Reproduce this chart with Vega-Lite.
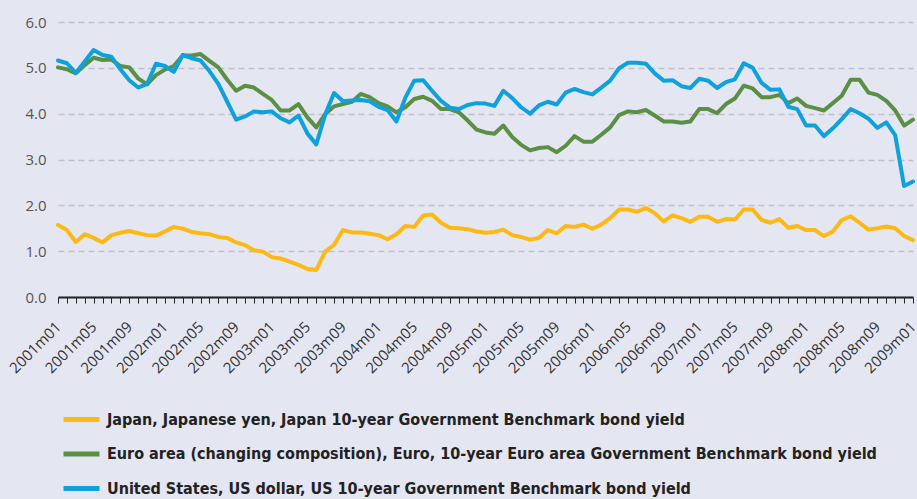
{
"$schema":"https://vega.github.io/schema/vega-lite/v6.json",
"width":855,"height":275,
"autosize":{"type":"none"},
"padding":{"left":58,"top":22,"right":4,"bottom":202},
"background":"#e4e6f2",
"config":{"view":{"stroke":null},"font":"Open Sans"},
"data":{"values":[
{"m":"2001m01","jp":1.57,"ea":5.01,"us":5.16},
{"m":"2001m02","jp":1.46,"ea":4.97,"us":5.10},
{"m":"2001m03","jp":1.20,"ea":4.88,"us":4.89},
{"m":"2001m04","jp":1.37,"ea":5.06,"us":5.14},
{"m":"2001m05","jp":1.29,"ea":5.22,"us":5.39},
{"m":"2001m06","jp":1.19,"ea":5.17,"us":5.28},
{"m":"2001m07","jp":1.35,"ea":5.18,"us":5.24},
{"m":"2001m08","jp":1.40,"ea":5.04,"us":4.97},
{"m":"2001m09","jp":1.44,"ea":5.01,"us":4.73},
{"m":"2001m10","jp":1.39,"ea":4.77,"us":4.57},
{"m":"2001m11","jp":1.35,"ea":4.64,"us":4.65},
{"m":"2001m12","jp":1.34,"ea":4.84,"us":5.09},
{"m":"2002m01","jp":1.43,"ea":4.96,"us":5.04},
{"m":"2002m02","jp":1.53,"ea":5.04,"us":4.91},
{"m":"2002m03","jp":1.49,"ea":5.27,"us":5.28},
{"m":"2002m04","jp":1.42,"ea":5.27,"us":5.21},
{"m":"2002m05","jp":1.39,"ea":5.30,"us":5.16},
{"m":"2002m06","jp":1.37,"ea":5.15,"us":4.93},
{"m":"2002m07","jp":1.31,"ea":5.01,"us":4.65},
{"m":"2002m08","jp":1.29,"ea":4.74,"us":4.26},
{"m":"2002m09","jp":1.19,"ea":4.50,"us":3.87},
{"m":"2002m10","jp":1.13,"ea":4.61,"us":3.94},
{"m":"2002m11","jp":1.02,"ea":4.57,"us":4.05},
{"m":"2002m12","jp":0.99,"ea":4.43,"us":4.03},
{"m":"2003m01","jp":0.87,"ea":4.30,"us":4.05},
{"m":"2003m02","jp":0.84,"ea":4.07,"us":3.90},
{"m":"2003m03","jp":0.77,"ea":4.07,"us":3.81},
{"m":"2003m04","jp":0.70,"ea":4.21,"us":3.96},
{"m":"2003m05","jp":0.61,"ea":3.92,"us":3.57},
{"m":"2003m06","jp":0.59,"ea":3.70,"us":3.33},
{"m":"2003m07","jp":0.99,"ea":3.99,"us":3.98},
{"m":"2003m08","jp":1.14,"ea":4.16,"us":4.45},
{"m":"2003m09","jp":1.46,"ea":4.21,"us":4.27},
{"m":"2003m10","jp":1.41,"ea":4.26,"us":4.29},
{"m":"2003m11","jp":1.41,"ea":4.43,"us":4.30},
{"m":"2003m12","jp":1.38,"ea":4.36,"us":4.27},
{"m":"2004m01","jp":1.35,"ea":4.23,"us":4.15},
{"m":"2004m02","jp":1.26,"ea":4.16,"us":4.08},
{"m":"2004m03","jp":1.37,"ea":4.03,"us":3.83},
{"m":"2004m04","jp":1.55,"ea":4.14,"us":4.35},
{"m":"2004m05","jp":1.53,"ea":4.32,"us":4.72},
{"m":"2004m06","jp":1.78,"ea":4.37,"us":4.73},
{"m":"2004m07","jp":1.80,"ea":4.28,"us":4.50},
{"m":"2004m08","jp":1.62,"ea":4.10,"us":4.28},
{"m":"2004m09","jp":1.51,"ea":4.10,"us":4.13},
{"m":"2004m10","jp":1.50,"ea":4.03,"us":4.10},
{"m":"2004m11","jp":1.48,"ea":3.85,"us":4.19},
{"m":"2004m12","jp":1.43,"ea":3.65,"us":4.23},
{"m":"2005m01","jp":1.40,"ea":3.59,"us":4.22},
{"m":"2005m02","jp":1.42,"ea":3.56,"us":4.17},
{"m":"2005m03","jp":1.47,"ea":3.74,"us":4.50},
{"m":"2005m04","jp":1.35,"ea":3.49,"us":4.34},
{"m":"2005m05","jp":1.31,"ea":3.32,"us":4.14},
{"m":"2005m06","jp":1.25,"ea":3.20,"us":4.00},
{"m":"2005m07","jp":1.29,"ea":3.25,"us":4.18},
{"m":"2005m08","jp":1.46,"ea":3.27,"us":4.26},
{"m":"2005m09","jp":1.39,"ea":3.16,"us":4.20},
{"m":"2005m10","jp":1.55,"ea":3.30,"us":4.46},
{"m":"2005m11","jp":1.53,"ea":3.51,"us":4.54},
{"m":"2005m12","jp":1.58,"ea":3.39,"us":4.47},
{"m":"2006m01","jp":1.49,"ea":3.39,"us":4.42},
{"m":"2006m02","jp":1.58,"ea":3.54,"us":4.57},
{"m":"2006m03","jp":1.72,"ea":3.70,"us":4.72},
{"m":"2006m04","jp":1.91,"ea":3.97,"us":4.99},
{"m":"2006m05","jp":1.91,"ea":4.05,"us":5.11},
{"m":"2006m06","jp":1.86,"ea":4.03,"us":5.11},
{"m":"2006m07","jp":1.94,"ea":4.08,"us":5.09},
{"m":"2006m08","jp":1.83,"ea":3.96,"us":4.88},
{"m":"2006m09","jp":1.65,"ea":3.83,"us":4.72},
{"m":"2006m10","jp":1.78,"ea":3.83,"us":4.73},
{"m":"2006m11","jp":1.72,"ea":3.80,"us":4.60},
{"m":"2006m12","jp":1.64,"ea":3.83,"us":4.56},
{"m":"2007m01","jp":1.75,"ea":4.10,"us":4.76},
{"m":"2007m02","jp":1.75,"ea":4.10,"us":4.72},
{"m":"2007m03","jp":1.64,"ea":4.01,"us":4.56},
{"m":"2007m04","jp":1.70,"ea":4.21,"us":4.69},
{"m":"2007m05","jp":1.69,"ea":4.33,"us":4.75},
{"m":"2007m06","jp":1.91,"ea":4.61,"us":5.10},
{"m":"2007m07","jp":1.91,"ea":4.55,"us":5.00},
{"m":"2007m08","jp":1.68,"ea":4.36,"us":4.67},
{"m":"2007m09","jp":1.62,"ea":4.36,"us":4.52},
{"m":"2007m10","jp":1.70,"ea":4.41,"us":4.53},
{"m":"2007m11","jp":1.51,"ea":4.23,"us":4.15},
{"m":"2007m12","jp":1.55,"ea":4.33,"us":4.10},
{"m":"2008m01","jp":1.46,"ea":4.17,"us":3.74},
{"m":"2008m02","jp":1.46,"ea":4.12,"us":3.74},
{"m":"2008m03","jp":1.33,"ea":4.07,"us":3.51},
{"m":"2008m04","jp":1.43,"ea":4.23,"us":3.68},
{"m":"2008m05","jp":1.68,"ea":4.39,"us":3.88},
{"m":"2008m06","jp":1.76,"ea":4.74,"us":4.10},
{"m":"2008m07","jp":1.62,"ea":4.74,"us":4.01},
{"m":"2008m08","jp":1.47,"ea":4.46,"us":3.89},
{"m":"2008m09","jp":1.50,"ea":4.41,"us":3.69},
{"m":"2008m10","jp":1.54,"ea":4.28,"us":3.81},
{"m":"2008m11","jp":1.50,"ea":4.07,"us":3.53},
{"m":"2008m12","jp":1.33,"ea":3.74,"us":2.42},
{"m":"2009m01","jp":1.24,"ea":3.87,"us":2.52}
]},
"transform":[{"fold":["jp","ea","us"],"as":["s","v"]}],
"mark":{"type":"line","strokeWidth":4,"strokeJoin":"round","strokeCap":"round"},
"encoding":{
"x":{"field":"m","type":"ordinal","scale":{"type":"point","padding":0},
"axis":{"title":null,"labelExpr":"test(/m(01|05|09)$/, datum.value) ? datum.value : ''","labelAngle":-45,"labelAlign":"right","labelBaseline":"middle","labelFontSize":15,"labelColor":"#333333","domainColor":"#222222","domainWidth":2,"tickColor":"#222222","tickSize":6,"tickWidth":1,"grid":false,"labelOverlap":false,"labelPadding":21,"labelDx":2}},
"y":{"field":"v","type":"quantitative","scale":{"domain":[0,6],"nice":false,"zero":true},
"axis":{"title":null,"values":[0,1,2,3,4,5,6],"format":".1f","domain":false,"ticks":false,"labelPadding":12,"labelFontSize":15,"labelColor":"#555555","gridColor":"#bfc0ca","gridDash":[6,4],"gridWidth":1.5}},
"color":{"field":"s","type":"nominal","scale":{"domain":["jp","ea","us"],"range":["#fdb913","#5b8f44","#0ea1dc"]},
"legend":{"orient":"none","legendX":3,"legendY":377,"direction":"vertical","title":null,"padding":0,"symbolType":"stroke","symbolSize":1296,"symbolStrokeWidth":5,"rowPadding":3.5,"labelOffset":5,"labelLimit":900,"labelFont":"DejaVu Sans Condensed","labelFontWeight":"bold","labelFontSize":16,"labelColor":"#222222",
"labelExpr":"datum.value == 'jp' ? 'Japan, Japanese yen, Japan 10-year Government Benchmark bond yield' : datum.value == 'ea' ? 'Euro area (changing composition), Euro, 10-year Euro area Government Benchmark bond yield' : 'United States, US dollar, US 10-year Government Benchmark bond yield'"}}
}
}
